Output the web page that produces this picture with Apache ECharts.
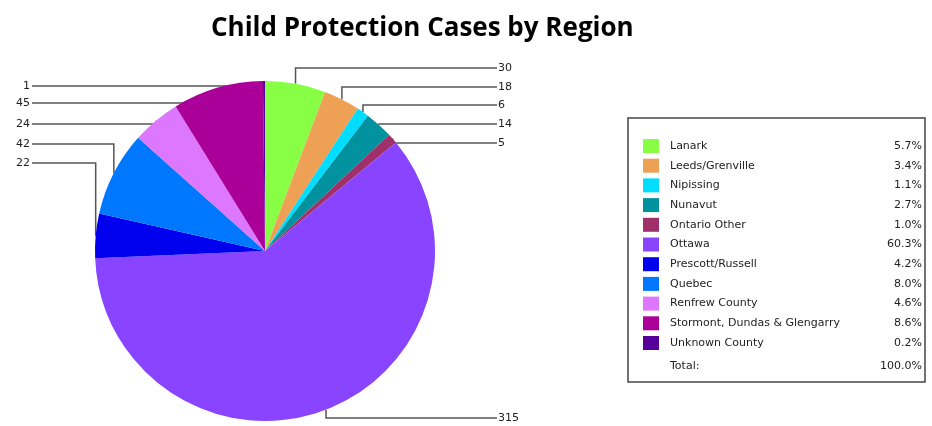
<!DOCTYPE html>
<html>
<head>
<meta charset="utf-8">
<script src="https://cdn.jsdelivr.net/npm/echarts@6/dist/echarts.min.js"></script>
<style>
html,body{margin:0;padding:0;background:#fff;}
#chart{width:932px;height:426px;}
</style>
</head>
<body>
<div id="chart"></div>
<script>
const categories = ['Lanark','Leeds/Grenville','Nipissing','Nunavut','Ontario Other','Ottawa','Prescott/Russell','Quebec','Renfrew County','Stormont, Dundas & Glengarry','Unknown County'];
const caseCounts = [30, 18, 6, 14, 5, 315, 22, 42, 24, 45, 1];
const sliceColors = ['#88ff44','#eea055','#00ddff','#00929f','#a0306a','#8844ff','#0000ee','#0077ff','#dd77ff','#aa0099','#550099'];
// label placement (layout only): side and vertical position
const labelSlots = [
  ['right',68],['right',87],['right',105],['right',124],['right',143],
  ['right',418],
  ['left',163],['left',144],['left',124],['left',103],['left',86]
];

const total = caseCounts.reduce((a,b)=>a+b,0);
const pct = v => (v/total*100).toFixed(1) + '%';
const pctMap = {};
categories.forEach((c,i)=>{ pctMap[c] = pct(caseCounts[i]); });

const CX = 265, CY = 251, R = 170;
// mid angle (radians, clockwise from 12 o'clock) of each slice
const midAngles = [];
(function(){
  let acc = 0;
  caseCounts.forEach(v => { midAngles.push((acc + v/2) / total * Math.PI * 2); acc += v; });
})();

const chart = echarts.init(document.getElementById('chart'));
const font = 'DejaVu Sans';
chart.setOption({
  animation: false,
  color: sliceColors,
  title: {
    text: 'Child Protection Cases by Region',
    left: 206, top: 11,
    textStyle: {fontFamily: 'Open Sans', fontWeight: 'bold', fontSize: 26, color: '#000'}
  },
  legend: {
    orient: 'vertical',
    left: 643, top: 139,
    padding: 0,
    itemWidth: 16, itemHeight: 14, itemGap: 5.7,
    icon: 'rect',
    selectedMode: false,
    data: categories,
    formatter: name => '{n|' + name + '}{p|' + pctMap[name] + '}',
    textStyle: {
      fontFamily: font, fontSize: 11, color: '#222',
      rich: {
        n: {width: 200, fontFamily: font, fontSize: 11, color: '#222', padding: [0,0,0,6]},
        p: {width: 52, align: 'right', fontFamily: font, fontSize: 11, color: '#222'}
      }
    }
  },
  graphic: [
    {type: 'rect', shape: {x: 628, y: 118, width: 297, height: 264},
     style: {fill: 'none', stroke: '#444', lineWidth: 1.5}},
    {type: 'text', x: 670, y: 366, style: {text: 'Total:', fontFamily: font, fontSize: 11, fill: '#222', textVerticalAlign: 'middle'}},
    {type: 'text', x: 922, y: 366, style: {text: (100).toFixed(1) + '%', fontFamily: font, fontSize: 11, fill: '#222', textAlign: 'right', textVerticalAlign: 'middle'}}
  ],
  series: [{
    type: 'pie',
    center: [CX, CY],
    radius: R,
    startAngle: 90,
    clockwise: true,
    avoidLabelOverlap: false,
    data: categories.map((c,i)=>({name: c, value: caseCounts[i]})),
    label: {
      show: true,
      formatter: '{c}',
      fontFamily: font, fontSize: 11, color: '#222'
    },
    labelLine: {show: true, length: 8, length2: 10, smooth: false, lineStyle: {color: '#555', width: 1.5}},
    labelLayout: function (p) {
      const s = labelSlots[p.dataIndex];
      const a = midAngles[p.dataIndex];
      const ax = CX + R * Math.sin(a), ay = CY - R * Math.cos(a);
      const right = s[0] === 'right';
      const lx = right ? 497 : 32;
      return {
        x: right ? 498 : 30, y: s[1],
        align: right ? 'left' : 'right', verticalAlign: 'middle',
        labelLinePoints: [[ax, ay], [ax, s[1]], [lx, s[1]]]
      };
    },
    emphasis: {disabled: true}
  }]
});
</script>
</body>
</html>
